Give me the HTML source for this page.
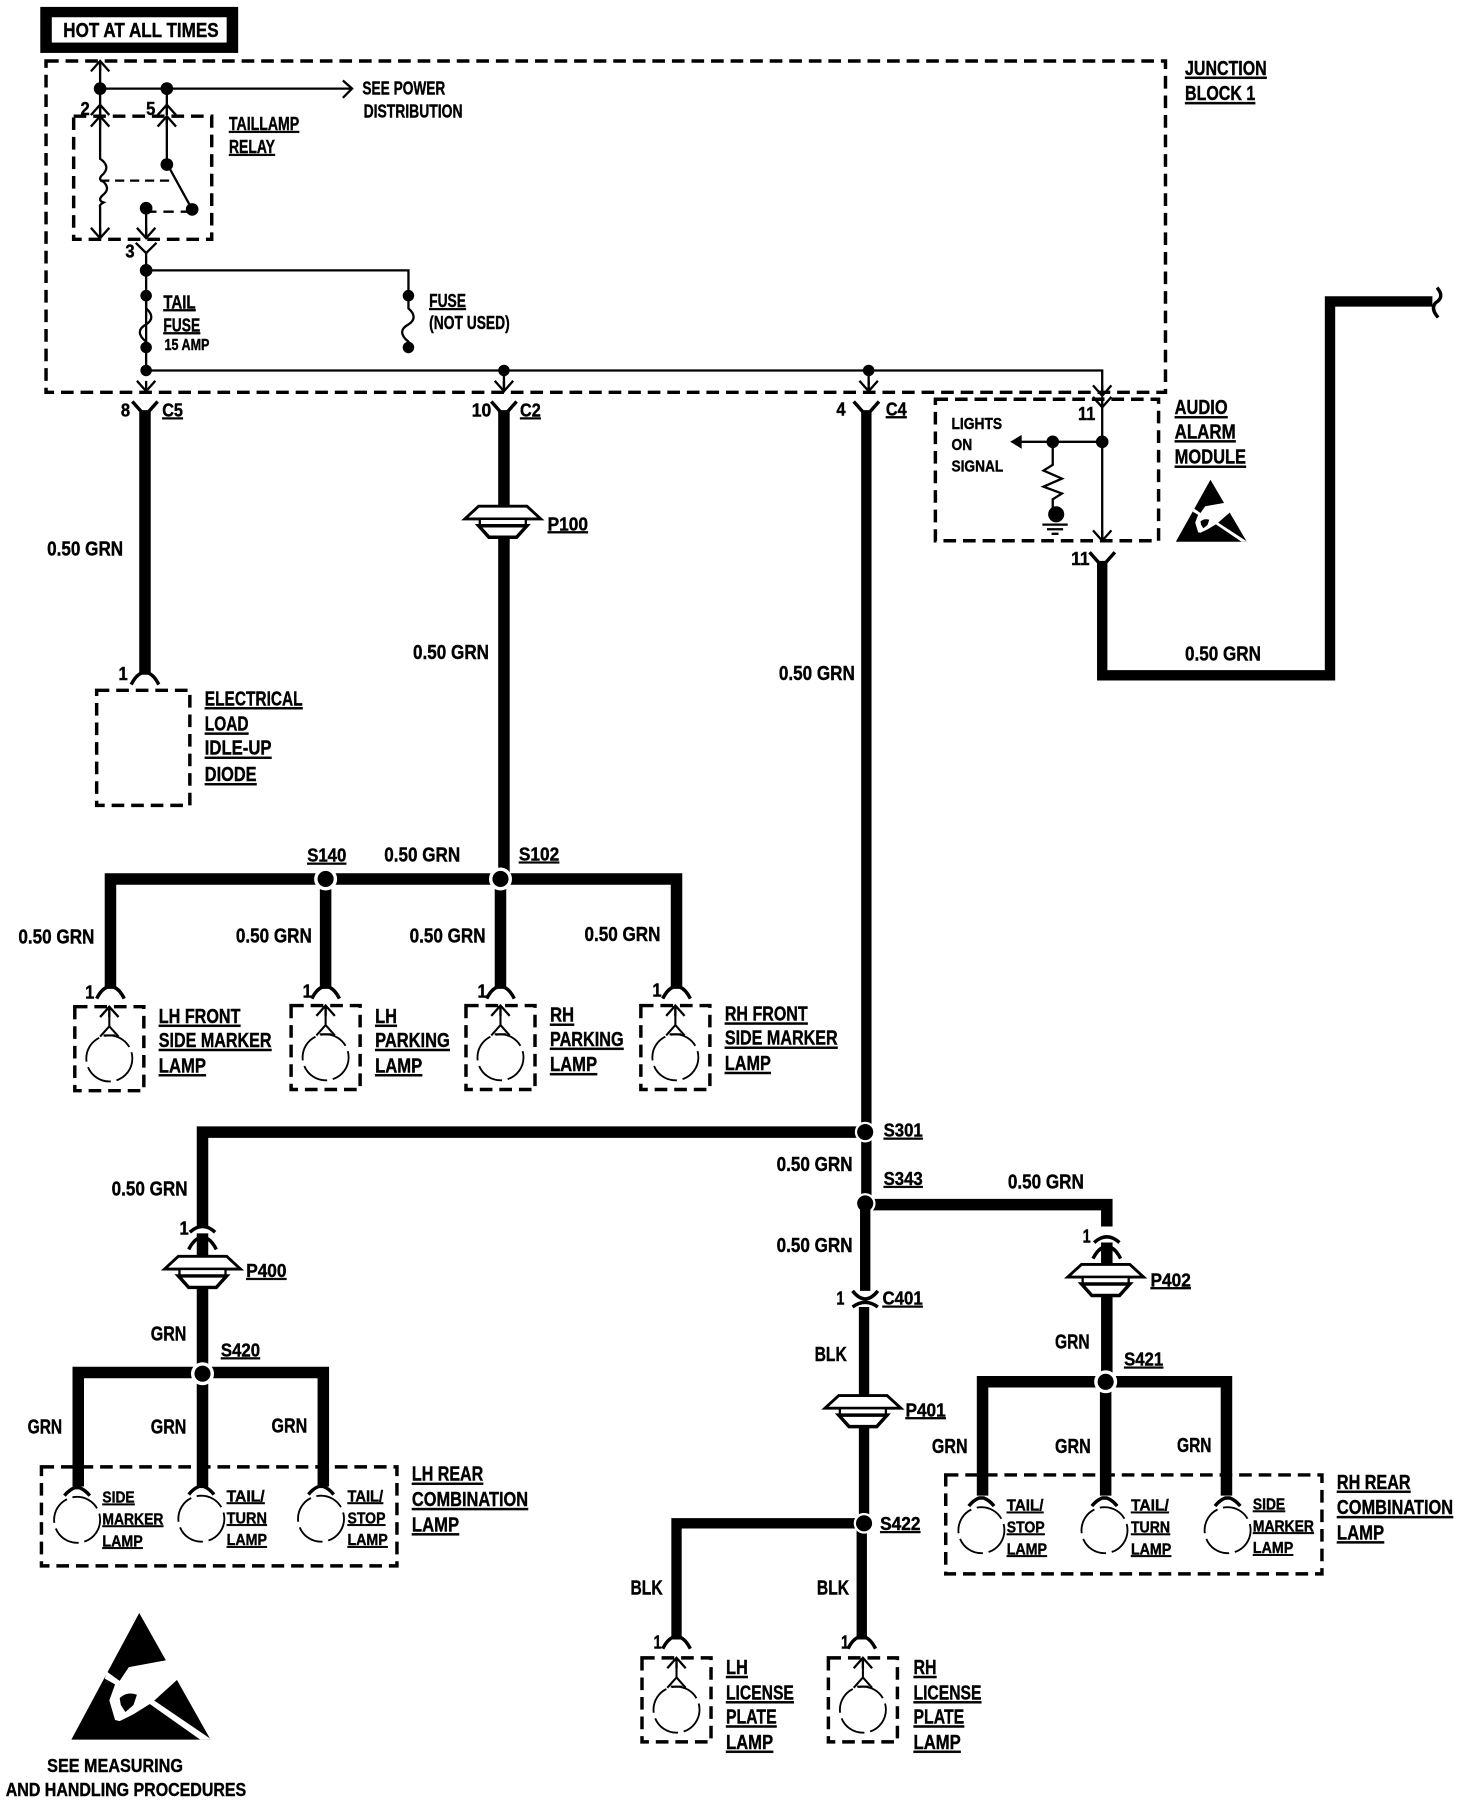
<!DOCTYPE html>
<html><head><meta charset="utf-8"><style>
html,body{margin:0;padding:0;background:#fff}
svg{display:block}
text{font-family:"Liberation Sans",sans-serif;font-weight:bold;fill:#000;stroke:#000;stroke-width:.35;font-size:18px}
.u{text-decoration:underline}
.m{font-size:16px}
.s{font-size:14px}
.w{fill:none;stroke:#000;stroke-width:10}
.t{fill:none;stroke:#000;stroke-width:2}
.d{fill:none;stroke:#000;stroke-width:3;stroke-dasharray:11 6}
.b{fill:none;stroke:#000;stroke-width:1.6;stroke-dasharray:25 5}
</style></head><body>
<svg width="1472" height="1804" viewBox="0 0 1279.4 1568" xmlns="http://www.w3.org/2000/svg">
<defs>
<g id="au"><path d="M-8 9L0 0L8 9M0 0V9" fill="none" stroke="#000" stroke-width="2"/></g>
<g id="ad"><path d="M-8 -9L0 0L8 -9M0 0V-9" fill="none" stroke="#000" stroke-width="2"/></g>
<g id="fk"><path d="M-11 -9L-3 0H3L11 -9" fill="none" stroke="#000" stroke-width="3"/></g>
<g id="cap"><path d="M-12 8Q-8 0 -3 -2H3Q8 0 12 8" fill="none" stroke="#000" stroke-width="3"/></g>
<g id="gm"><path d="M-21 0H21L33 11H-33Z" fill="#fff" stroke="#000" stroke-width="2.5"/><rect x="-20" y="11" width="40" height="6" fill="#fff" stroke="#000" stroke-width="2"/><path d="M-21 17H21L12 27H-12Z" fill="#fff" stroke="#000" stroke-width="3"/></g>
<g id="lp"><rect x="-30" y="0" width="60" height="73" class="d"/><use href="#au" y="0"/><path d="M0 0V17M-8 26L0 17L8 26M-5 25H5" fill="none" stroke="#000" stroke-width="1.8"/><circle cy="45" r="20" class="b"/></g>
<g id="bc"><path d="M-11 -21Q-7 -26 -2 -28H2Q7 -26 11 -21" fill="none" stroke="#000" stroke-width="3"/><circle r="20" class="b"/></g>
<g id="esd"><path d="M59 0L121 110H0Z" fill="#000"/><path d="M31 51L42 59L50 47L83 41L92 58L70 78L54 88L42 94L38 93L33 76L38 62L29 57Z" fill="#fff"/><path d="M42 74Q48 68 57 71L54 80L47 86L43 80Z" fill="#000"/><path d="M68 79L112 110H122L72 76Z" fill="#fff"/></g>
</defs>
<!-- HOT -->
<rect x="35" y="6" width="172" height="40" fill="#000"/>
<rect x="45" y="15" width="152" height="22" fill="#fff"/>
<text x="55" y="32" textLength="135" lengthAdjust="spacingAndGlyphs">HOT AT ALL TIMES</text>
<!-- Junction -->
<rect x="40" y="53" width="973" height="288" class="d"/>
<text class="u" x="1030" y="65" textLength="71" lengthAdjust="spacingAndGlyphs">JUNCTION</text>
<text class="u" x="1030" y="87" textLength="61" lengthAdjust="spacingAndGlyphs">BLOCK 1</text>
<!-- relay -->
<path class="t" d="M87 56V100M87 77H305M145 77V100"/>
<circle cx="87" cy="77" r="5.5"/><circle cx="145" cy="77" r="5.5"/>
<use href="#au" x="87" y="53"/><use href="#au" x="87" y="91"/><use href="#au" x="145" y="91"/><use href="#au" x="87" y="101"/><use href="#au" x="145" y="101"/>
<path d="M298 70L306 77L298 85" class="t"/>
<text class="m" x="315" y="82" textLength="72" lengthAdjust="spacingAndGlyphs">SEE POWER</text>
<text class="m" x="316" y="102" textLength="86" lengthAdjust="spacingAndGlyphs">DISTRIBUTION</text>
<text class="m" x="70" y="100" textLength="8" lengthAdjust="spacingAndGlyphs">2</text>
<text class="m" x="127" y="100" textLength="8" lengthAdjust="spacingAndGlyphs">5</text>
<rect x="64" y="101" width="120" height="107" class="d"/>
<text class="u m" x="199" y="113" textLength="61" lengthAdjust="spacingAndGlyphs">TAILLAMP</text>
<text class="u m" x="199" y="133" textLength="40" lengthAdjust="spacingAndGlyphs">RELAY</text>
<path class="t" d="M87 101V138Q96 144 90 151Q84 156 90 158Q96 164 90 169Q84 174 90 176Q86 178 87 180V207M145 101V142L167 182"/>
<path d="M87 157H150" class="t" stroke-dasharray="8 5"/>
<circle cx="145" cy="143" r="5.5"/><circle cx="167" cy="182" r="5.5"/><circle cx="127" cy="181" r="5.5"/>
<path d="M127 181H167" class="t" stroke-dasharray="9 6" transform="translate(0 3)"/>
<path class="t" d="M127 181V207"/><use href="#ad" x="87" y="207"/><use href="#ad" x="127" y="207"/>
<path class="t" d="M118 211L127 220L136 211M127 220V322"/>
<text class="m" x="109" y="224" textLength="8" lengthAdjust="spacingAndGlyphs">3</text>
<circle cx="127" cy="235" r="5.5"/>
<path class="t" d="M127 235H355V260"/>
<circle cx="127" cy="257" r="5"/><circle cx="127" cy="302" r="5"/><circle cx="355" cy="257" r="5"/><circle cx="355" cy="302" r="5"/>
<path class="t" d="M127 257V268Q136 276 127 282Q116 288 127 297V302M355 257V268Q364 276 355 282Q344 288 355 297V302"/>
<text class="u m" x="142" y="268" textLength="28" lengthAdjust="spacingAndGlyphs">TAIL</text>
<text class="u m" x="142" y="288" textLength="32" lengthAdjust="spacingAndGlyphs">FUSE</text>
<text class="s" x="143" y="304" textLength="39" lengthAdjust="spacingAndGlyphs">15 AMP</text>
<text class="u m" x="373" y="267" textLength="32" lengthAdjust="spacingAndGlyphs">FUSE</text>
<text class="m" x="373" y="286" textLength="70" lengthAdjust="spacingAndGlyphs">(NOT USED)</text>
<path class="t" d="M127 322H958V344M438 322V341M755 322V341"/>
<circle cx="127" cy="322" r="5"/><circle cx="438" cy="322" r="5"/><circle cx="755" cy="322" r="5"/>
<use href="#ad" x="127" y="340"/><use href="#ad" x="438" y="340"/><use href="#ad" x="755" y="340"/><use href="#ad" x="958" y="344"/>
<!-- C5 -->
<path class="w" d="M126 358V585"/><use href="#fk" x="126" y="358"/>
<text class="m" x="105" y="362" textLength="8" lengthAdjust="spacingAndGlyphs">8</text>
<text class="u m" x="141" y="362" textLength="18" lengthAdjust="spacingAndGlyphs">C5</text>
<text x="41" y="483" textLength="66" lengthAdjust="spacingAndGlyphs">0.50 GRN</text>
<use href="#cap" x="126" y="587"/>
<text class="m" x="103" y="591" textLength="8" lengthAdjust="spacingAndGlyphs">1</text>
<rect x="84" y="600" width="81" height="100" class="d"/>
<text class="u" x="178" y="613" textLength="85" lengthAdjust="spacingAndGlyphs">ELECTRICAL</text>
<text class="u" x="178" y="635" textLength="38" lengthAdjust="spacingAndGlyphs">LOAD</text>
<text class="u" x="178" y="656" textLength="58" lengthAdjust="spacingAndGlyphs">IDLE-UP</text>
<text class="u" x="178" y="679" textLength="45" lengthAdjust="spacingAndGlyphs">DIODE</text>
<!-- C2 -->
<path class="w" d="M438 358V764"/><use href="#fk" x="438" y="358"/>
<text class="m" x="410" y="362" textLength="17" lengthAdjust="spacingAndGlyphs">10</text>
<text class="u m" x="452" y="362" textLength="18" lengthAdjust="spacingAndGlyphs">C2</text>
<use href="#gm" x="437" y="440"/>
<text class="u m" x="476" y="461" textLength="35" lengthAdjust="spacingAndGlyphs">P100</text>
<text x="359" y="573" textLength="66" lengthAdjust="spacingAndGlyphs">0.50 GRN</text>
<!-- Front lamps -->
<path class="w" d="M96 858V764H588V858M283 764V858M435 764V858"/>
<circle cx="283" cy="764" r="8.5" stroke="#fff" stroke-width="3"/><circle cx="435" cy="764" r="8.5" stroke="#fff" stroke-width="3"/>
<text class="u m" x="267" y="749" textLength="34" lengthAdjust="spacingAndGlyphs">S140</text>
<text x="334" y="749" textLength="66" lengthAdjust="spacingAndGlyphs">0.50 GRN</text>
<text class="u m" x="451" y="748" textLength="35" lengthAdjust="spacingAndGlyphs">S102</text>
<text x="16" y="820" textLength="66" lengthAdjust="spacingAndGlyphs">0.50 GRN</text>
<text x="205" y="819" textLength="66" lengthAdjust="spacingAndGlyphs">0.50 GRN</text>
<text x="356" y="819" textLength="66" lengthAdjust="spacingAndGlyphs">0.50 GRN</text>
<text x="508" y="818" textLength="66" lengthAdjust="spacingAndGlyphs">0.50 GRN</text>
<use href="#cap" x="96" y="860"/><use href="#cap" x="283" y="860"/><use href="#cap" x="435" y="860"/><use href="#cap" x="588" y="860"/>
<text class="m" x="74" y="868" textLength="8" lengthAdjust="spacingAndGlyphs">1</text>
<text class="m" x="263" y="867" textLength="8" lengthAdjust="spacingAndGlyphs">1</text>
<text class="m" x="415" y="867" textLength="8" lengthAdjust="spacingAndGlyphs">1</text>
<text class="m" x="567" y="866" textLength="8" lengthAdjust="spacingAndGlyphs">1</text>
<use href="#lp" x="95" y="875"/><use href="#lp" x="283" y="874"/><use href="#lp" x="435" y="874"/><use href="#lp" x="587" y="874"/>
<text class="u" x="138" y="889" textLength="71" lengthAdjust="spacingAndGlyphs">LH FRONT</text>
<text class="u" x="138" y="910" textLength="98" lengthAdjust="spacingAndGlyphs">SIDE MARKER</text>
<text class="u" x="138" y="932" textLength="41" lengthAdjust="spacingAndGlyphs">LAMP</text>
<text class="u" x="326" y="889" textLength="19" lengthAdjust="spacingAndGlyphs">LH</text>
<text class="u" x="326" y="910" textLength="65" lengthAdjust="spacingAndGlyphs">PARKING</text>
<text class="u" x="326" y="932" textLength="41" lengthAdjust="spacingAndGlyphs">LAMP</text>
<text class="u" x="478" y="888" textLength="21" lengthAdjust="spacingAndGlyphs">RH</text>
<text class="u" x="478" y="909" textLength="64" lengthAdjust="spacingAndGlyphs">PARKING</text>
<text class="u" x="478" y="931" textLength="41" lengthAdjust="spacingAndGlyphs">LAMP</text>
<text class="u" x="630" y="887" textLength="72" lengthAdjust="spacingAndGlyphs">RH FRONT</text>
<text class="u" x="630" y="908" textLength="98" lengthAdjust="spacingAndGlyphs">SIDE MARKER</text>
<text class="u" x="630" y="930" textLength="40" lengthAdjust="spacingAndGlyphs">LAMP</text>
<!-- C4 main -->
<path d="M753 358V1047" class="w" style="stroke-width:9"/><use href="#fk" x="753" y="358"/>
<text class="m" x="727" y="361" textLength="8" lengthAdjust="spacingAndGlyphs">4</text>
<text class="u m" x="770" y="361" textLength="18" lengthAdjust="spacingAndGlyphs">C4</text>
<text x="677" y="591" textLength="66" lengthAdjust="spacingAndGlyphs">0.50 GRN</text>
<!-- Audio module -->
<rect x="813" y="347" width="194" height="123" class="d"/>
<path class="t" d="M958 345L958 470M958 384H882M915 384V404L907 409L923 416L907 423L923 429L915 434V445"/>
<path d="M950 345L958 354L966 345" class="t"/>
<use href="#ad" x="958" y="470"/>
<path d="M878 384L888 378V390Z"/>
<circle cx="958" cy="384" r="5.5"/><circle cx="915" cy="384" r="5.5"/><ellipse cx="918" cy="447" rx="7" ry="7"/>
<path class="t" d="M906 456H928M910 460H924M914 464H920"/>
<text class="m" x="937" y="365" textLength="15" lengthAdjust="spacingAndGlyphs">11</text>
<text class="s" x="827" y="373" textLength="44" lengthAdjust="spacingAndGlyphs">LIGHTS</text>
<text class="s" x="827" y="391" textLength="18" lengthAdjust="spacingAndGlyphs">ON</text>
<text class="s" x="827" y="410" textLength="45" lengthAdjust="spacingAndGlyphs">SIGNAL</text>
<text class="u" x="1021" y="360" textLength="46" lengthAdjust="spacingAndGlyphs">AUDIO</text>
<text class="u" x="1021" y="381" textLength="53" lengthAdjust="spacingAndGlyphs">ALARM</text>
<text class="u" x="1021" y="403" textLength="62" lengthAdjust="spacingAndGlyphs">MODULE</text>
<use href="#esd" transform="translate(1022 417) scale(.51 .49)"/>
<path d="M958 488V587H1156V262H1245" class="w" style="stroke-width:9"/>
<use href="#fk" x="958" y="489"/>
<path d="M1249 250Q1256 258 1248 263Q1243 268 1250 276" class="t" style="stroke-width:3"/>
<text class="m" x="931" y="491" textLength="16" lengthAdjust="spacingAndGlyphs">11</text>
<text x="1030" y="574" textLength="66" lengthAdjust="spacingAndGlyphs">0.50 GRN</text>
<!-- S301 -->
<path class="w" d="M753 984H176V1066"/>
<circle cx="752" cy="984" r="8" stroke="#fff" stroke-width="2"/>
<text class="u m" x="768" y="988" textLength="34" lengthAdjust="spacingAndGlyphs">S301</text>
<text x="97" y="1039" textLength="66" lengthAdjust="spacingAndGlyphs">0.50 GRN</text>
<text x="675" y="1018" textLength="66" lengthAdjust="spacingAndGlyphs">0.50 GRN</text>
<text class="m" x="156" y="1073" textLength="8" lengthAdjust="spacingAndGlyphs">1</text>
<path d="M165 1071Q176 1061 187 1071" fill="none" stroke="#000" stroke-width="3"/>
<path d="M176 1072V1192" class="w"/>
<use href="#cap" x="176" y="1078"/>
<use href="#gm" x="176" y="1092"/>
<text class="u m" x="214" y="1110" textLength="35" lengthAdjust="spacingAndGlyphs">P400</text>
<text x="131" y="1165" textLength="31" lengthAdjust="spacingAndGlyphs">GRN</text>
<text class="u m" x="192" y="1179" textLength="34" lengthAdjust="spacingAndGlyphs">S420</text>
<path class="w" d="M68 1292V1193H281V1292M176 1193V1292"/>
<circle cx="176" cy="1194" r="8.5" stroke="#fff" stroke-width="3"/>
<text x="24" y="1246" textLength="30" lengthAdjust="spacingAndGlyphs">GRN</text>
<text x="131" y="1246" textLength="31" lengthAdjust="spacingAndGlyphs">GRN</text>
<text x="236" y="1245" textLength="31" lengthAdjust="spacingAndGlyphs">GRN</text>
<rect x="36" y="1275" width="309" height="86" class="d"/>
<use href="#bc" x="67" y="1321"/><use href="#bc" x="175" y="1320"/><use href="#bc" x="279" y="1320"/>
<text class="u s" x="89" y="1306" textLength="28" lengthAdjust="spacingAndGlyphs">SIDE</text>
<text class="u s" x="89" y="1325" textLength="53" lengthAdjust="spacingAndGlyphs">MARKER</text>
<text class="u s" x="89" y="1344" textLength="35" lengthAdjust="spacingAndGlyphs">LAMP</text>
<text class="u s" x="197" y="1305" textLength="33" lengthAdjust="spacingAndGlyphs">TAIL/</text>
<text class="u s" x="197" y="1324" textLength="35" lengthAdjust="spacingAndGlyphs">TURN</text>
<text class="u s" x="197" y="1343" textLength="35" lengthAdjust="spacingAndGlyphs">LAMP</text>
<text class="u s" x="302" y="1305" textLength="31" lengthAdjust="spacingAndGlyphs">TAIL/</text>
<text class="u s" x="302" y="1324" textLength="33" lengthAdjust="spacingAndGlyphs">STOP</text>
<text class="u s" x="302" y="1343" textLength="35" lengthAdjust="spacingAndGlyphs">LAMP</text>
<text class="u" x="358" y="1287" textLength="62" lengthAdjust="spacingAndGlyphs">LH REAR</text>
<text class="u" x="358" y="1309" textLength="101" lengthAdjust="spacingAndGlyphs">COMBINATION</text>
<text class="u" x="358" y="1331" textLength="41" lengthAdjust="spacingAndGlyphs">LAMP</text>
<!-- ESD large -->
<use href="#esd" transform="translate(62 1402)"/>
<text class="m" x="41" y="1540" textLength="118" lengthAdjust="spacingAndGlyphs">SEE  MEASURING</text>
<text class="m" x="5" y="1561" textLength="209" lengthAdjust="spacingAndGlyphs">AND HANDLING PROCEDURES</text>
<!-- S343 -->
<path class="w" d="M752 1047H962V1066"/>
<circle cx="752" cy="1046" r="8" stroke="#fff" stroke-width="2"/>
<text class="u m" x="768" y="1030" textLength="34" lengthAdjust="spacingAndGlyphs">S343</text>
<text x="876" y="1033" textLength="66" lengthAdjust="spacingAndGlyphs">0.50 GRN</text>
<path d="M752 1050V1122M751 1136V1324M749 1324V1425" class="w" style="stroke-width:9"/>
<text x="675" y="1088" textLength="66" lengthAdjust="spacingAndGlyphs">0.50 GRN</text>
<path d="M741 1122Q752 1136 763 1122M741 1136Q752 1128 763 1136" fill="none" stroke="#000" stroke-width="3"/>
<text class="m" x="727" y="1134" textLength="7" lengthAdjust="spacingAndGlyphs">1</text>
<text class="u m" x="767" y="1134" textLength="35" lengthAdjust="spacingAndGlyphs">C401</text>
<text x="708" y="1183" textLength="28" lengthAdjust="spacingAndGlyphs">BLK</text>
<use href="#gm" x="750" y="1213"/>
<text class="u m" x="787" y="1231" textLength="35" lengthAdjust="spacingAndGlyphs">P401</text>
<path d="M588 1425V1324H751" class="w" style="stroke-width:9"/>
<circle cx="751" cy="1324" r="8" stroke="#fff" stroke-width="2"/>
<text class="u m" x="765" y="1330" textLength="35" lengthAdjust="spacingAndGlyphs">S422</text>
<text x="548" y="1386" textLength="28" lengthAdjust="spacingAndGlyphs">BLK</text>
<text x="710" y="1386" textLength="28" lengthAdjust="spacingAndGlyphs">BLK</text>
<use href="#cap" x="588" y="1425"/><use href="#cap" x="749" y="1425"/>
<text class="m" x="568" y="1433" textLength="7" lengthAdjust="spacingAndGlyphs">1</text>
<text class="m" x="731" y="1433" textLength="7" lengthAdjust="spacingAndGlyphs">1</text>
<use href="#lp" x="588" y="1441"/><use href="#lp" x="750" y="1441"/>
<text class="u" x="631" y="1455" textLength="19" lengthAdjust="spacingAndGlyphs">LH</text>
<text class="u" x="631" y="1477" textLength="59" lengthAdjust="spacingAndGlyphs">LICENSE</text>
<text class="u" x="631" y="1498" textLength="44" lengthAdjust="spacingAndGlyphs">PLATE</text>
<text class="u" x="631" y="1520" textLength="41" lengthAdjust="spacingAndGlyphs">LAMP</text>
<text class="u" x="794" y="1455" textLength="20" lengthAdjust="spacingAndGlyphs">RH</text>
<text class="u" x="794" y="1477" textLength="59" lengthAdjust="spacingAndGlyphs">LICENSE</text>
<text class="u" x="794" y="1498" textLength="44" lengthAdjust="spacingAndGlyphs">PLATE</text>
<text class="u" x="794" y="1520" textLength="41" lengthAdjust="spacingAndGlyphs">LAMP</text>
<!-- RH rear -->
<text class="m" x="941" y="1080" textLength="7" lengthAdjust="spacingAndGlyphs">1</text>
<path d="M951 1080Q962 1070 973 1080" fill="none" stroke="#000" stroke-width="3"/>
<path d="M962 1080V1200" class="w"/>
<use href="#cap" x="962" y="1086"/>
<use href="#gm" x="961" y="1099"/>
<text class="u m" x="1000" y="1118" textLength="35" lengthAdjust="spacingAndGlyphs">P402</text>
<text x="917" y="1172" textLength="30" lengthAdjust="spacingAndGlyphs">GRN</text>
<text class="u m" x="977" y="1187" textLength="34" lengthAdjust="spacingAndGlyphs">S421</text>
<path class="w" d="M854 1300V1201H1066V1300M961 1201V1300"/>
<circle cx="961" cy="1201" r="8.5" stroke="#fff" stroke-width="3"/>
<text x="810" y="1263" textLength="31" lengthAdjust="spacingAndGlyphs">GRN</text>
<text x="917" y="1263" textLength="31" lengthAdjust="spacingAndGlyphs">GRN</text>
<text x="1023" y="1262" textLength="30" lengthAdjust="spacingAndGlyphs">GRN</text>
<rect x="822" y="1282" width="327" height="86" class="d"/>
<use href="#bc" x="853" y="1330"/><use href="#bc" x="960" y="1330"/><use href="#bc" x="1067" y="1330"/>
<text class="u s" x="875" y="1313" textLength="32" lengthAdjust="spacingAndGlyphs">TAIL/</text>
<text class="u s" x="875" y="1332" textLength="33" lengthAdjust="spacingAndGlyphs">STOP</text>
<text class="u s" x="875" y="1351" textLength="35" lengthAdjust="spacingAndGlyphs">LAMP</text>
<text class="u s" x="983" y="1313" textLength="33" lengthAdjust="spacingAndGlyphs">TAIL/</text>
<text class="u s" x="983" y="1332" textLength="34" lengthAdjust="spacingAndGlyphs">TURN</text>
<text class="u s" x="983" y="1351" textLength="35" lengthAdjust="spacingAndGlyphs">LAMP</text>
<text class="u s" x="1089" y="1312" textLength="28" lengthAdjust="spacingAndGlyphs">SIDE</text>
<text class="u s" x="1089" y="1331" textLength="53" lengthAdjust="spacingAndGlyphs">MARKER</text>
<text class="u s" x="1089" y="1350" textLength="35" lengthAdjust="spacingAndGlyphs">LAMP</text>
<text class="u" x="1162" y="1294" textLength="64" lengthAdjust="spacingAndGlyphs">RH REAR</text>
<text class="u" x="1162" y="1316" textLength="101" lengthAdjust="spacingAndGlyphs">COMBINATION</text>
<text class="u" x="1162" y="1338" textLength="41" lengthAdjust="spacingAndGlyphs">LAMP</text>
</svg>
</body></html>
